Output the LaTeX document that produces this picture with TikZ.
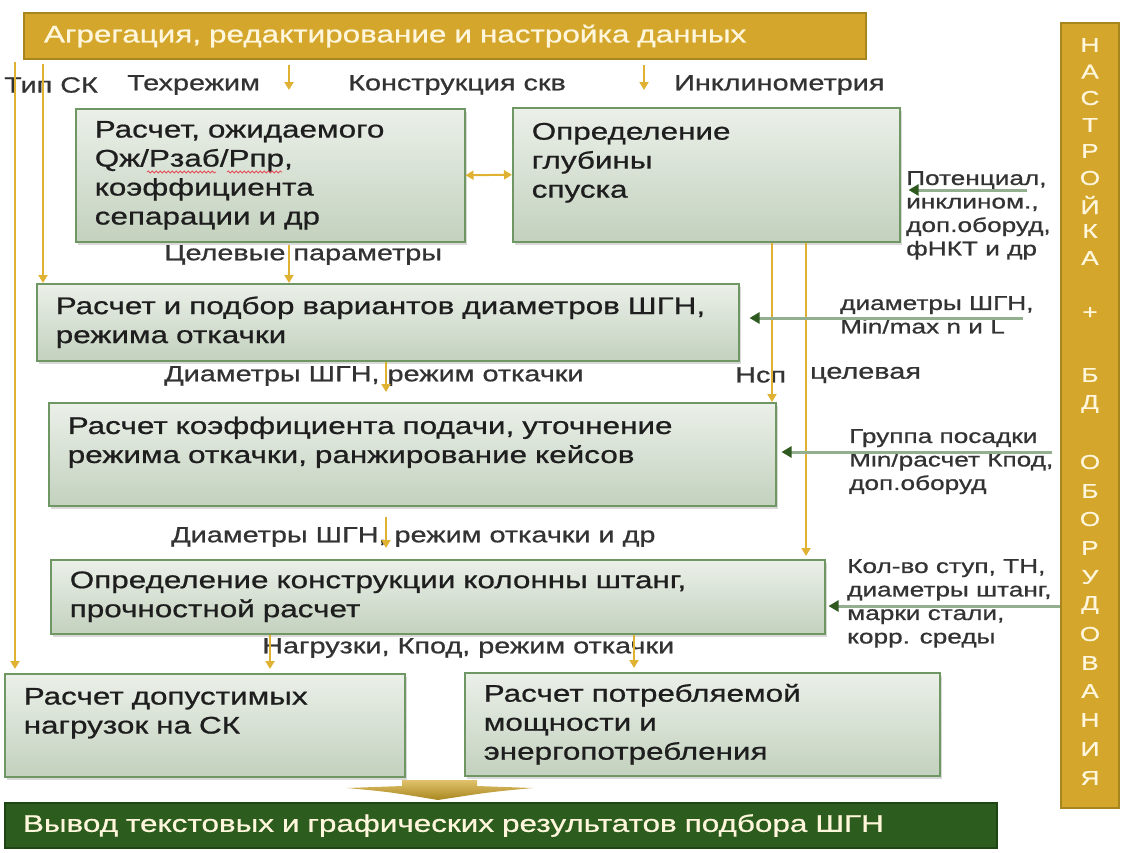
\documentclass[tikz,border=0pt]{standalone}
\usepackage{fontspec}
\setmainfont{Liberation Sans}[FakeStretch=1.31,FakeBold=0.8]
\usetikzlibrary{arrows.meta,shadows,decorations.pathmorphing}

\definecolor{gold}{HTML}{D4A72C}
\definecolor{goldline}{HTML}{A8861F}
\definecolor{goldarr}{HTML}{E0B233}
\definecolor{boxtop}{HTML}{EBF0E9}
\definecolor{boxbot}{HTML}{C3D1BE}
\definecolor{boxline}{HTML}{6E9763}
\definecolor{grline}{HTML}{94AE90}
\definecolor{grhead}{HTML}{2E5A1F}
\definecolor{darkgr}{HTML}{2C5D1E}
\definecolor{darkgrline}{HTML}{1E4514}
\definecolor{cream}{HTML}{FFF6DC}
\definecolor{txt}{HTML}{1E1E1E}
\definecolor{lbl}{HTML}{333333}
\definecolor{spellred}{HTML}{E0505A}

\newcommand{\boxfont}{\fontsize{24}{29}\selectfont}
\newcommand{\lblfont}{\fontsize{22}{26}\selectfont}
\newcommand{\sidefont}{\fontsize{20}{23.5}\selectfont}

\begin{document}
\begin{tikzpicture}[x=1pt,y=-1pt]
        \tikzstyle{box}=[draw=boxline, line width=1.5pt, top color=boxtop, bottom color=boxbot,
            drop shadow={opacity=0.3, shadow xshift=2pt, shadow yshift=-3pt},
            anchor=north west, align=left, inner xsep=19pt, inner ysep=0pt, font=\boxfont, text=txt]
        \tikzstyle{goldbar}=[draw=goldline, line width=2pt, fill=gold, anchor=north west, align=left,
            font=\boxfont, text=cream]
        \tikzstyle{lab}=[anchor=west, inner sep=0pt, font=\lblfont, text=lbl]
        \tikzstyle{side}=[anchor=north west, align=left, inner sep=0pt, font=\sidefont, text=lbl]
        \tikzstyle{garr}=[draw=goldarr, line width=2pt, -{Triangle[width=9pt,length=8pt]}]
        \tikzstyle{grarr}=[draw=grline, line width=3pt, -{Triangle[width=11pt,length=10pt,color=grhead]}]
        \tikzstyle{wavy}=[draw=spellred, line width=0.8pt, decorate,
            decoration={snake, amplitude=1pt, segment length=4pt}]

        \useasboundingbox (0,0) rectangle (1123,852);

        \node[goldbar, inner xsep=20pt, text width=802pt, minimum height=46pt] (agg) at (23,12)
            {Агрегация, редактирование и настройка данных};
        \node[goldbar, minimum width=58pt, minimum height=785pt] (nastr) at (1060,22) {};
        \foreach \ch/\yy [count=\i] in {Н/45, А/71.6, С/98, Т/125, Р/151, О/178, Й/205, К/231, А/258,
                +/313, Б/375, Д/404, О/462, Б/491, О/519, Р/548, У/577, Д/605, О/634, В/663,
                А/691, Н/720, И/749, Я/778}
            \node[text=cream, inner sep=0pt, font=\fontsize{20}{24}\selectfont] (nl\i) at (1090,\yy) {\ch};

        \node[box, text width=351pt, minimum height=133pt] (calcQ) at (75,108)
            {Расчет, ожидаемого\\Qж/Рзаб/Рпр,\\коэффициента\\сепарации и др};
        \node[box, text width=349pt, minimum height=134pt] (depth) at (512,107)
            {Определение\\глубины\\спуска\\\mbox{}};
        \node[box, text width=664pt, minimum height=77pt] (pumpsel) at (36,283)
            {Расчет и подбор вариантов диаметров ШГН,\\режима откачки};
        \node[box, text width=689pt, minimum height=103pt] (feed) at (48,402)
            {Расчет коэффициента подачи, уточнение\\режима откачки, ранжирование кейсов\\\mbox{}};
        \node[box, text width=736pt, minimum height=74pt] (rods) at (50,559)
            {Определение конструкции колонны штанг,\\прочностной расчет};
        \node[box, text width=362pt, minimum height=103pt] (loads) at (4,673)
            {Расчет допустимых\\нагрузок на СК\\\mbox{}};
        \node[box, text width=437pt, minimum height=103pt] (power) at (464,672)
            {Расчет потребляемой\\мощности и\\энергопотребления};
        \node[goldbar, draw=darkgrline, fill=darkgr, inner xsep=18pt, text width=956pt, minimum height=45pt] (result) at (4,802)
            {Вывод текстовых и графических результатов подбора ШГН};

        \draw[wavy] (147,172) -- (216,172);
        \draw[wavy] (227,172) -- (282,172);

        \node[lab] (lTip) at (4,85) {Тип СК};
        \node[lab] (lTech) at (127,85) {Техрежим};
        \node[lab] (lKonstr) at (348,85) {Конструкция скв};
        \node[lab] (lIncl) at (674,85) {Инклинометрия};
        \node[lab] (lTarget) at (164,255) {Целевые параметры};
        \node[lab] (lDiam) at (164,376) {Диаметры ШГН, режим откачки};
        \node[lab] (lNsp) at (735,375) {Нсп};
        \node[lab] (lCel) at (810,375) {целевая};
        \node[lab] (lDiamDr) at (171,537) {Диаметры ШГН, режим откачки и др};
        \node[lab] (lLoads) at (262,648) {Нагрузки, Кпод, режим откачки};

        \node[side] (rPot) at (906,171) {Потенциал,\\инклином.,\\доп.оборуд,\\фНКТ и др};
        \node[side] (rDiam) at (840,296) {диаметры ШГН,\\Min/max n и L};
        \node[side] (rGroup) at (849,429) {Группа посадки\\Min/расчет Кпод,\\доп.оборуд};
        \node[side] (rKol) at (847,559) {Кол-во ступ, ТН,\\диаметры штанг,\\марки стали,\\корр. среды};

        \coordinate (tA) at (15,62);
        \coordinate (tB) at (43,64);
        \coordinate (tC) at (289,90);
        \coordinate (tD) at (644,90);
        \coordinate (xm) at (386,0);
        \coordinate (xn) at (772,0);
        \coordinate (xo) at (806,0);
        \coordinate (xp) at (270,0);
        \coordinate (xq) at (634,0);

        \draw[garr, shorten >=4pt] (tA) -- (tA |- loads.north);
        \draw[garr] (tB) -- (tB |- pumpsel.north);
        \draw[garr, shorten <=5pt] (agg.south -| tC) -- (tC);
        \draw[garr, shorten <=5pt] (agg.south -| tD) -- (tD);
        \draw[garr, {Triangle[width=9pt,length=8pt]}-{Triangle[width=9pt,length=8pt]}] (calcQ.east) -- (depth.west);
        \draw[garr, shorten <=2pt] (calcQ.south -| tC) -- (pumpsel.north -| tC);
        \draw[garr, shorten >=10pt] (pumpsel.south -| xm) -- (feed.north -| xm);
        \draw[garr, shorten <=10pt, shorten >=11pt] (feed.south -| xm) -- (rods.north -| xm);
        \draw[garr] (depth.south -| xn) -- (feed.north -| xn);
        \draw[garr, shorten >=3pt] (depth.south -| xo) -- (rods.north -| xo);
        \draw[garr, shorten >=4pt] (rods.south -| xp) -- (loads.north -| xp);
        \draw[garr, shorten >=4pt] (rods.south -| xq) -- (power.north -| xq);

        \coordinate (gPot) at (1027,190);
        \coordinate (gDiam) at (1023,318);
        \coordinate (gGroup) at (1052,452);
        \coordinate (gKol) at (1061,606);
        \draw[grarr, shorten >=8pt] (gPot) -- (gPot -| depth.east);
        \draw[grarr, shorten >=10pt] (gDiam) -- (gDiam -| pumpsel.east);
        \draw[grarr, shorten >=5pt] (gGroup) -- (gGroup -| feed.east);
        \draw[grarr, shorten >=3pt] (nastr.west |- gKol) -- (gKol -| rods.east);

        \shade[top color=gold!70!white, bottom color=goldline] (402,780) -- (477,780) -- (477,786) -- (533,788)
            .. controls (490,792) .. (438,800) .. controls (390,792) .. (347,788) -- (402,786) -- cycle;

    \end{tikzpicture}
\end{document}
